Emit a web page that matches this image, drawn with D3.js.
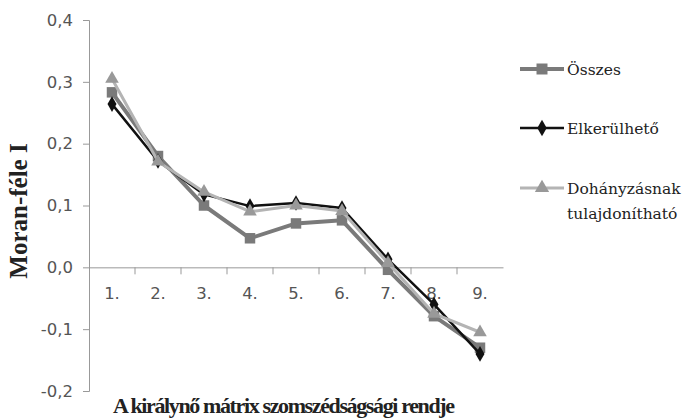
<!DOCTYPE html>
<html><head><meta charset="utf-8">
<script src="https://cdn.jsdelivr.net/npm/d3@7"></script>
<style>body{margin:0;background:#fff}</style>
</head><body>
<svg id="c" width="695" height="419"></svg>
<script>
const categories = ["1.","2.","3.","4.","5.","6.","7.","8.","9."];
const osszes = [0.283,0.18,0.10,0.047,0.071,0.076,-0.004,-0.079,-0.13];
const elkerulheto = [0.264,0.172,0.118,0.099,0.104,0.096,0.013,-0.06,-0.14];
const dohanyzas = [0.305,0.171,0.122,0.090,0.100,0.091,0.007,-0.075,-0.105];
const yTicks = [-0.2,-0.1,0,0.1,0.2,0.3,0.4];
const seriesNames = ["Összes","Elkerülhető","Dohányzásnak|tulajdonítható"];

const svg = d3.select("#c");
const x = d3.scaleBand().domain(categories).range([89,503]);
const y = d3.scaleLinear().domain([-0.2,0.4]).range([391,20]);
const fmt = d => d.toFixed(1).replace(".",",");

// Y axis
const ya = svg.append("g").attr("transform","translate(89,0)")
  .call(d3.axisLeft(y).tickValues(yTicks).tickFormat(fmt).tickSize(6).tickPadding(10));
ya.select(".domain").attr("stroke","#999");
ya.selectAll(".tick line").attr("stroke","#999");
ya.selectAll("text").attr("font-family","DejaVu Sans").attr("font-size",16.5).attr("fill","#555");

// X axis at zero
const xa = svg.append("g").attr("transform",`translate(0,${y(0)})`)
  .call(d3.axisBottom(x).tickSize(0).tickPadding(20));
xa.select(".domain").attr("stroke","#999");
xa.selectAll("text").attr("font-family","DejaVu Sans").attr("font-size",16.5).attr("fill","#555");
// boundary ticks
svg.append("g").selectAll("line").data(categories.slice(1)).join("line")
  .attr("x1",d=>x(d)).attr("x2",d=>x(d)).attr("y1",y(0)).attr("y2",y(0)+7).attr("stroke","#999");

const series = [
  {name:"Összes", vals:osszes, color:"#7a7a7a", w:4, marker:d3.symbolSquare, msize:110, mfill:"#7a7a7a"},
  {name:"Elkerülhető", vals:elkerulheto, color:"#111", w:2.5, marker:d3.symbolDiamond, msize:70, mfill:"#111"},
  {name:"Dohányzásnak", vals:dohanyzas, color:"#b4b4b4", w:3, marker:d3.symbolTriangle, msize:80, mfill:"#999"}
];
const line = d3.line().x((d,i)=>x(categories[i])+x.bandwidth()/2).y(d=>y(d));
series.forEach(s=>{
  svg.append("path").datum(s.vals).attr("d",line).attr("fill","none")
    .attr("stroke",s.color).attr("stroke-width",s.w).attr("stroke-linejoin","round");
  svg.append("g").selectAll("path").data(s.vals).join("path")
    .attr("d",d3.symbol().type(s.marker).size(s.msize))
    .attr("transform",(d,i)=>`translate(${x(categories[i])+x.bandwidth()/2},${y(d)})`)
    .attr("fill",s.mfill);
});

// Legend
const ly = [69,128,188];
series.forEach((s,i)=>{
  const g = svg.append("g").attr("transform",`translate(0,${ly[i]})`);
  g.append("line").attr("x1",520).attr("x2",564).attr("y1",0).attr("y2",0)
    .attr("stroke",s.color).attr("stroke-width",s.w);
  g.append("path").attr("d",d3.symbol().type(s.marker).size(s.msize*1.1))
    .attr("transform","translate(542,0)").attr("fill",s.mfill);
  const lines = seriesNames[i].split("|");
  const t = g.append("text").attr("x",567).attr("y",6).attr("font-family","DejaVu Serif")
    .attr("font-size",15.5).attr("fill","#222");
  lines.forEach((l,j)=>t.append("tspan").attr("x",567).attr("dy",j?25:0).text(l));
});

// Titles
svg.append("text").attr("transform","translate(27,211) rotate(-90)").attr("text-anchor","middle")
  .attr("font-family","Liberation Serif").attr("font-weight","bold").attr("font-size",25)
  .attr("fill","#222").text("Moran-féle I");
svg.append("text").attr("x",113).attr("y",413)
  .attr("font-family","Liberation Serif").attr("font-weight","bold").attr("font-size",22)
  .attr("textLength",342).attr("lengthAdjust","spacing")
  .attr("fill","#222").text("A királynő mátrix szomszédságsági rendje");
</script>
</body></html>
